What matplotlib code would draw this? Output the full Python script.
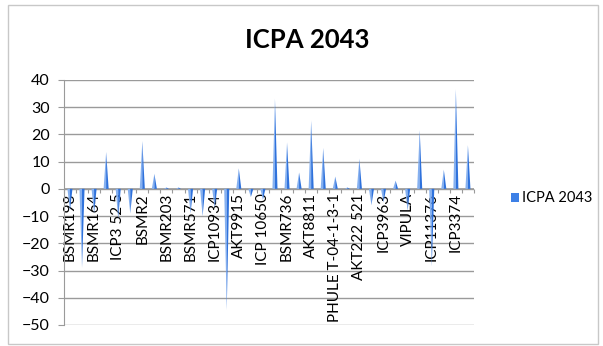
import numpy as np
import matplotlib.pyplot as plt
from matplotlib.patches import Rectangle, Polygon

plt.rcParams["font.family"] = ["Lato", "DejaVu Sans"]

# ── data ──────────────────────────────────────────────────────────────────────
# every other genotype carries a label on the axis
shown_labels = ["BSMR198", "BSMR164", "ICP3 52 5", "BSMR2", "BSMR203", "BSMR571",
                "ICP10934", "AKT9915", "ICP 10650", "BSMR736", "AKT8811",
                "PHULE T-04-1-3-1", "AKT222 521", "ICP3963", "VIPULA", "ICP11376",
                "ICP3374"]
icpa_2043 = [-8, -29, -9, 13.5, -11, -9, 17.5, 5.5, 0.5, 0.5,
             -9, -10, -7, -44.5, 7.5, -3, -4, 33, 17, 6,
             25, 15, 4.5, 0.5, 11, -6, -5, 3, -8, 21.5,
             -28.5, 7, 36.5, 16]
y_ticks = [40, 30, 20, 10, 0, -10, -20, -30, -40, -50]

BLUE_LIGHT = "#86b1f0"
BLUE_DARK = "#2f72dc"
GRID = "#9a9a9a"

# ── figure ────────────────────────────────────────────────────────────────────
fig = plt.figure(figsize=(6.03, 3.46), dpi=100)
fig.patches.append(Rectangle((0.013, 0.006), 0.979, 0.98, transform=fig.transFigure,
                             fill=False, edgecolor="#c8c8c8", linewidth=1))
fig.text(0.51, 0.885, "ICPA 2043", ha="center", va="center",
         fontsize=18.5, fontweight="bold", color="black")

ax = fig.add_axes([0.106, 0.0607, 0.68, 0.7083])
n = len(icpa_2043)
x = np.arange(n)
ax.set_xlim(-0.5, n - 0.5)
ax.set_ylim(-50, 40)

# horizontal gridlines
for t in y_ticks:
    ax.axhline(t, color=GRID, linewidth=1, zorder=0)
ax.axhline(-50.6, color="#c0c0c0", linewidth=1, zorder=0)

# pyramid-style spikes: lighter left face, darker right face
half = 0.21
for xi, v in zip(x, icpa_2043):
    ax.add_patch(Polygon([(xi - half, 0), (xi, v), (xi, 0)], closed=True,
                         facecolor=BLUE_LIGHT, edgecolor="none", zorder=3))
    ax.add_patch(Polygon([(xi, 0), (xi, v), (xi + half, 0)], closed=True,
                         facecolor=BLUE_DARK, edgecolor="none", zorder=3))

# axes styling
for side in ["top", "right", "bottom"]:
    ax.spines[side].set_visible(False)
ax.spines["left"].set_color(GRID)
ax.axhline(0, color=GRID, linewidth=1.2, zorder=2)

ax.set_yticks(y_ticks)
ax.tick_params(axis="y", length=4, color=GRID, labelsize=11.5, pad=6)

# category boundaries as ticks, labels at every second category centre
ax.spines["bottom"].set_position(("data", 0))
ax.set_xticks(np.arange(-0.5, n, 1))
ax.set_xticklabels([])
ax.tick_params(axis="x", which="major", length=3, color=GRID, direction="out")
ax.set_xticks(x[::2], minor=True)
ax.set_xticklabels(shown_labels, minor=True, rotation=90, fontsize=11)
ax.tick_params(axis="x", which="minor", length=0, pad=3)
ax.xaxis.set_ticks_position("bottom")
for lbl in ax.get_xticklabels(minor=True):
    lbl.set_va("top")
ax.patch.set_alpha(0)

# legend
fig.patches.append(Rectangle((0.848, 0.417), 0.0135, 0.024, transform=fig.transFigure,
                             facecolor="#3d80e6", edgecolor="none"))
fig.text(0.866, 0.428, "ICPA 2043", ha="left", va="center", fontsize=10.5)

fig.savefig("out.png", dpi=100)
